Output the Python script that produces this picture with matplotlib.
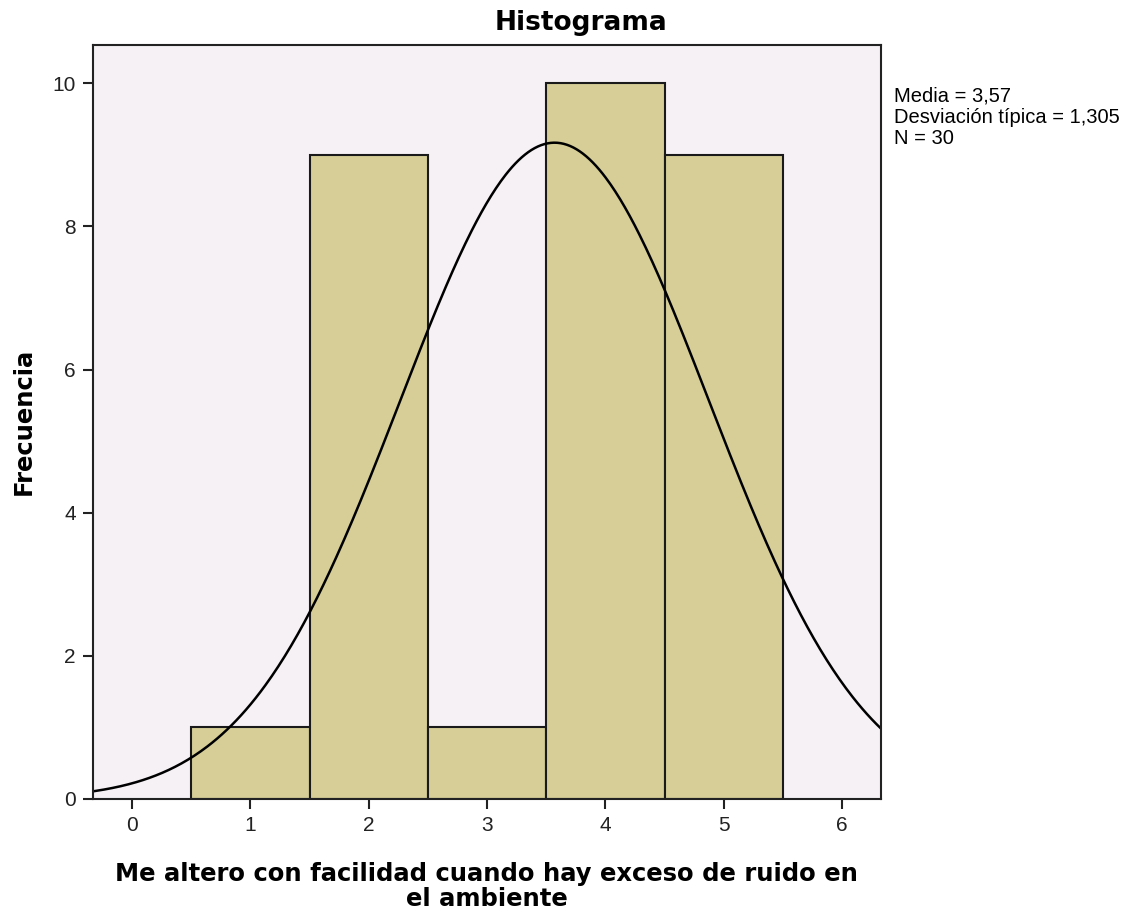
import numpy as np
import matplotlib
matplotlib.use("Agg")
import matplotlib.pyplot as plt

# Datos del histograma
valores = [1, 2, 3, 4, 5]
frecuencias = [1, 9, 1, 10, 9]
media = 3.57
desv = 1.305
n = 30

plt.rcParams['font.family'] = ['Liberation Sans', 'DejaVu Sans']

fig = plt.figure(figsize=(11.37, 9.13), dpi=100)
ax = fig.add_axes([0.0815, 0.125, 0.693, 0.826])
ax.set_facecolor('#F5F1F5')

# Barras del histograma
ax.bar(valores, frecuencias, width=1.0, color='#D6CE96', edgecolor='#1a1a1a', linewidth=1.5)

# Curva normal escalada (N * ancho de clase * densidad)
x = np.linspace(-0.4, 6.4, 500)
y = n * 1.0 * np.exp(-0.5 * ((x - media) / desv) ** 2) / (desv * np.sqrt(2 * np.pi))
ax.plot(x, y, color='black', linewidth=1.8)

ax.set_xlim(-0.333, 6.325)
ax.set_ylim(0, 10.54)
ax.set_xticks(range(0, 7))
ax.set_yticks(range(0, 11, 2))
ax.tick_params(direction='out', length=7, width=1.5, labelsize=15, pad=5, colors='#222222')
for s in ax.spines.values():
    s.set_linewidth(1.5)
    s.set_color('#222222')

# Textos en negrita con fuente más ancha
negrita = ['DejaVu Sans']
fig.text(0.511, 0.975, "Histograma", fontsize=19, fontweight='bold', family=negrita,
         ha='center', va='center')
ax.set_xlabel("Me altero con facilidad cuando hay exceso de ruido en\nel ambiente",
              fontsize=17.5, fontweight='bold', family=negrita, labelpad=20, linespacing=1.02)
ax.set_ylabel("Frecuencia", fontsize=17.5, fontweight='bold', family=negrita, labelpad=12)

fig.text(0.786, 0.905, "Media = 3,57\nDesviación típica = 1,305\nN = 30",
         fontsize=14.5, va='top', ha='left', linespacing=1.15)

plt.savefig("out.png", dpi=100)
